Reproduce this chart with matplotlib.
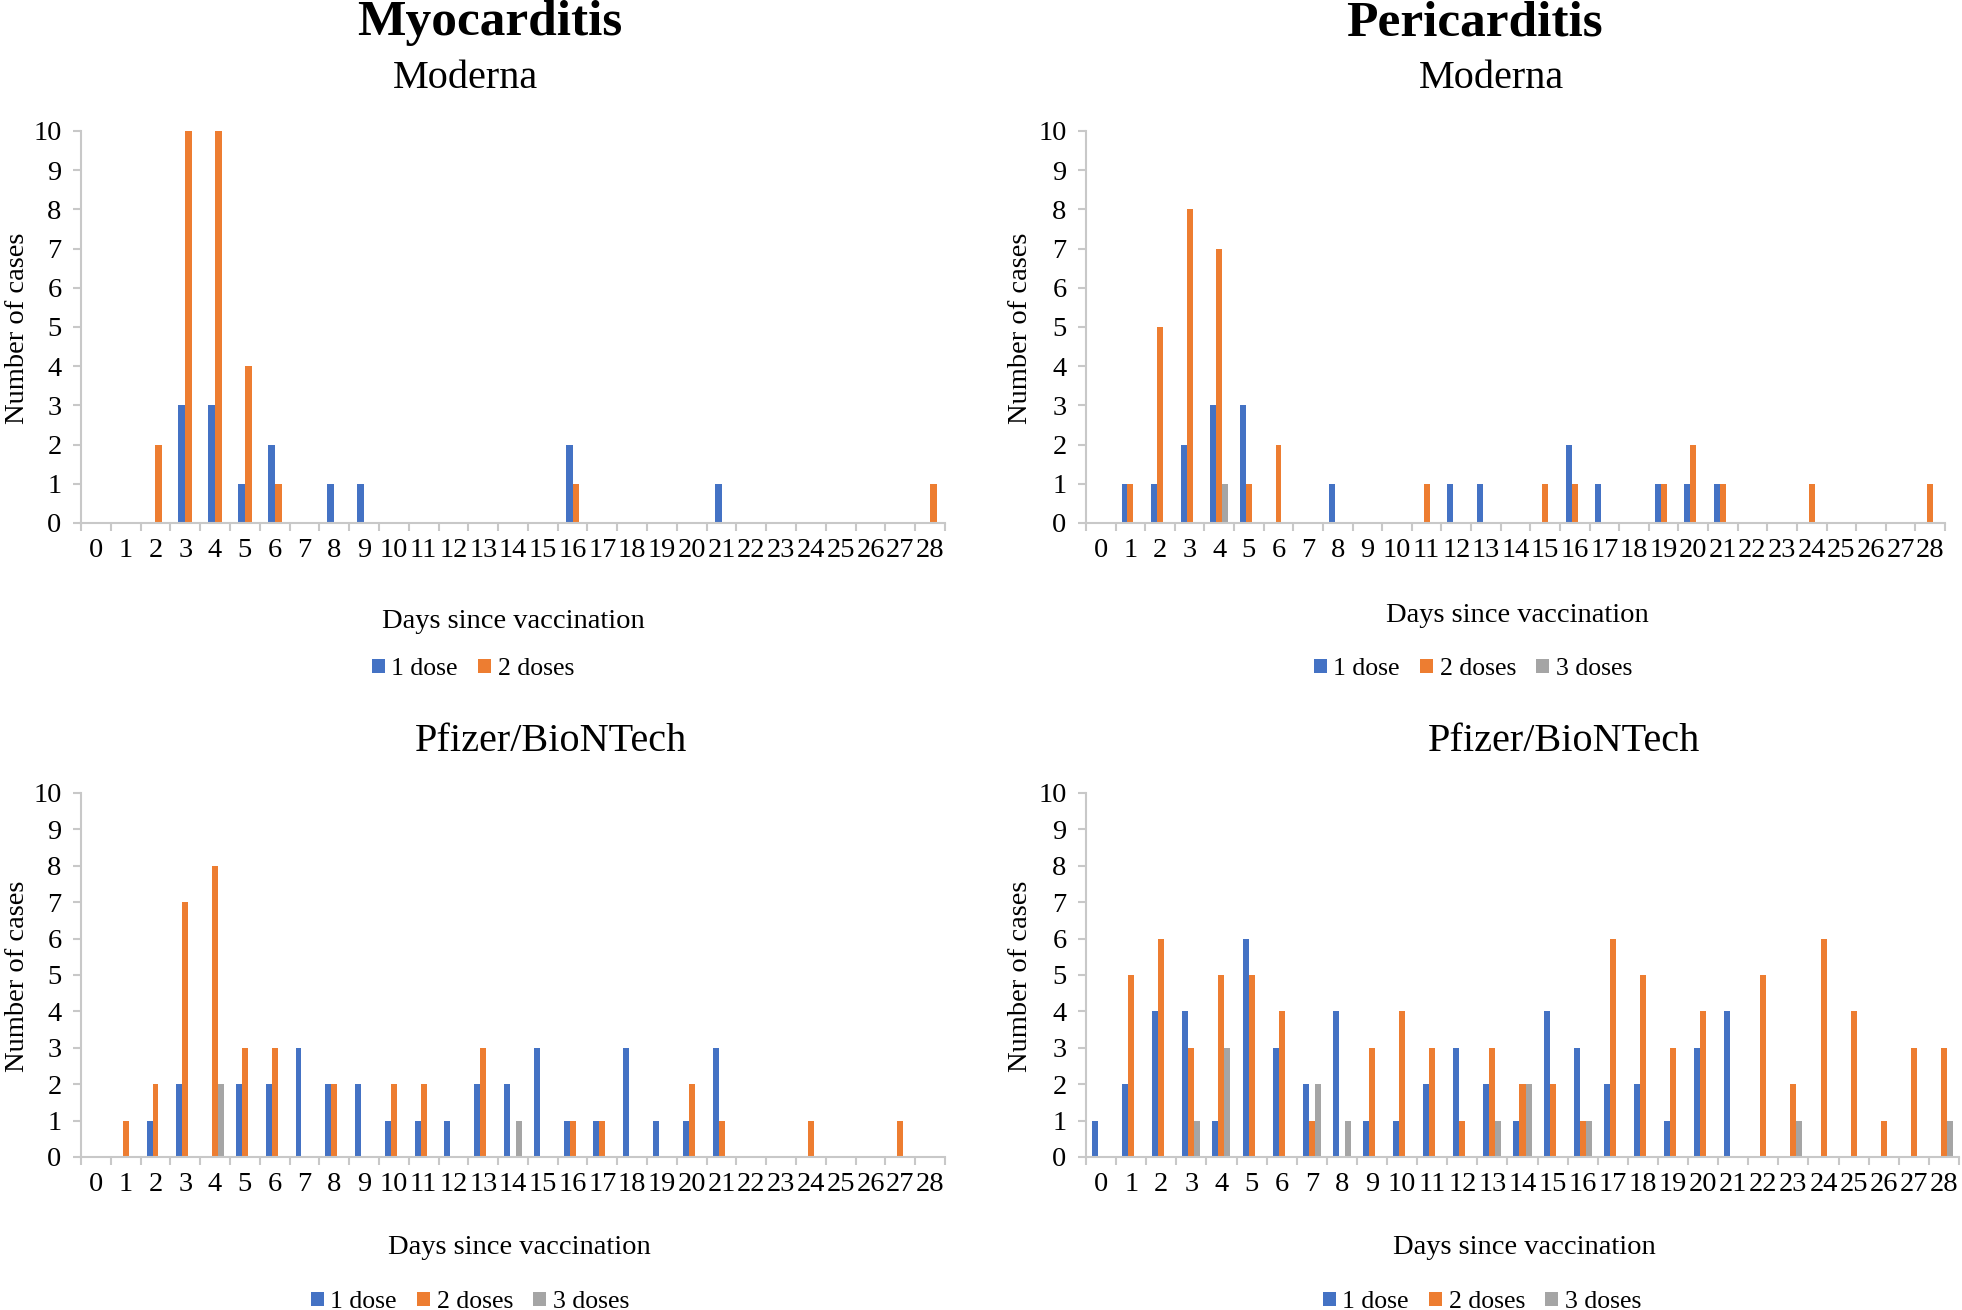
import matplotlib
matplotlib.use("Agg")
import matplotlib.pyplot as plt
import numpy as np

# ---------------- data ----------------
days = list(range(29))
dose_labels = ["1 dose", "2 doses", "3 doses"]

myo_moderna_1 = [0,0,0,3,3,1,2,0,1,1,0,0,0,0,0,0,2,0,0,0,0,1,0,0,0,0,0,0,0]
myo_moderna_2 = [0,0,2,10,10,4,1,0,0,0,0,0,0,0,0,0,1,0,0,0,0,0,0,0,0,0,0,0,1]

peri_moderna_1 = [0,1,1,2,3,3,0,0,1,0,0,0,1,1,0,0,2,1,0,1,1,1,0,0,0,0,0,0,0]
peri_moderna_2 = [0,1,5,8,7,1,2,0,0,0,0,1,0,0,0,1,1,0,0,1,2,1,0,0,1,0,0,0,1]
peri_moderna_3 = [0,0,0,0,1,0,0,0,0,0,0,0,0,0,0,0,0,0,0,0,0,0,0,0,0,0,0,0,0]

myo_pfizer_1 = [0,0,1,2,0,2,2,3,2,2,1,1,1,2,2,3,1,1,3,1,1,3,0,0,0,0,0,0,0]
myo_pfizer_2 = [0,1,2,7,8,3,3,0,2,0,2,2,0,3,0,0,1,1,0,0,2,1,0,0,1,0,0,1,0]
myo_pfizer_3 = [0,0,0,0,2,0,0,0,0,0,0,0,0,0,1,0,0,0,0,0,0,0,0,0,0,0,0,0,0]

peri_pfizer_1 = [1,2,4,4,1,6,3,2,4,1,1,2,3,2,1,4,3,2,2,1,3,4,0,0,0,0,0,0,0]
peri_pfizer_2 = [0,5,6,3,5,5,4,1,0,3,4,3,1,3,2,2,1,6,5,3,4,0,5,2,6,4,1,3,3]
peri_pfizer_3 = [0,0,0,1,3,0,0,2,1,0,0,0,0,1,2,0,1,0,0,0,0,0,0,1,0,0,0,0,1]

# ---------------- style ----------------
W, H = 1962, 1310
plt.rcParams["font.family"] = ["Liberation Serif", "DejaVu Serif"]
colors = ["#4472C4", "#ED7D31", "#A5A5A5"]
axis_gray = "#C8C8C8"

fig = plt.figure(figsize=(W / 100, H / 100), dpi=100)


def fx(px):
    return px / W


def fy(py):
    return 1 - py / H


def panel(left, right, top, bottom, series, bar_w, legend_xy):
    ax = fig.add_axes([fx(left), fy(bottom), (right - left) / W, (bottom - top) / H])
    n = len(series)
    x = np.arange(len(days))
    conts = []
    for i, vals in enumerate(series):
        off = (i - (n - 1) / 2) * bar_w
        c = ax.bar(x + off, vals, width=bar_w, color=colors[i],
                   label=dose_labels[i], linewidth=0, zorder=2)
        conts.append(c)
    ax.set_xlim(-0.5, len(days) - 0.5)
    ax.set_ylim(0, 10)
    ax.set_xticks(x)
    ax.set_xticklabels([str(d) for d in days])
    ax.set_xticks(np.arange(-0.5, len(days), 1.0), minor=True)
    ax.set_yticks(range(11))
    ax.tick_params(axis="x", which="major", length=0, pad=11, labelsize=20.5)
    ax.tick_params(axis="x", which="minor", length=6, width=1.5, color=axis_gray, direction="out")
    ax.tick_params(axis="y", which="major", length=6, width=1.5, color=axis_gray,
                   direction="out", pad=8, labelsize=20.5)
    for s in ["top", "right"]:
        ax.spines[s].set_visible(False)
    for s in ["left", "bottom"]:
        ax.spines[s].set_color(axis_gray)
        ax.spines[s].set_linewidth(1.5)
    ax.legend(handles=conts, loc="center", bbox_to_anchor=(fx(legend_xy[0]), fy(legend_xy[1])),
              bbox_transform=fig.transFigure, ncol=n, frameon=False, fontsize=18.5,
              handlelength=0.5, handleheight=0.5, handletextpad=0.25,
              columnspacing=0.8, borderpad=0, borderaxespad=0)
    return ax


panel(81, 945, 131, 523, [myo_moderna_1, myo_moderna_2], 0.23, (473, 669))
panel(1086, 1945, 131, 523, [peri_moderna_1, peri_moderna_2, peri_moderna_3], 0.2, (1473, 669))
panel(81, 945, 793, 1157, [myo_pfizer_1, myo_pfizer_2, myo_pfizer_3], 0.2, (470, 1302))
panel(1086, 1959, 793, 1157, [peri_pfizer_1, peri_pfizer_2, peri_pfizer_3], 0.2, (1482, 1302))

# ---------------- texts ----------------
fig.text(fx(490), fy(35), "Myocarditis", fontsize=37, fontweight="bold", ha="center", va="baseline")
fig.text(fx(1474), fy(35), "Pericarditis", fontsize=37, fontweight="bold", ha="center", va="baseline")
fig.text(fx(466), fy(88), "Moderna", fontsize=29, ha="center", va="baseline")
fig.text(fx(1492), fy(88), "Moderna", fontsize=29, ha="center", va="baseline")
fig.text(fx(551), fy(751), "Pfizer/BioNTech", fontsize=29, ha="center", va="baseline")
fig.text(fx(1564), fy(751), "Pfizer/BioNTech", fontsize=29, ha="center", va="baseline")

for (cx, by) in [(513, 628), (1517, 622), (519, 1254), (1524, 1254)]:
    fig.text(fx(cx), fy(by), "Days since vaccination", fontsize=20.5, ha="center", va="baseline")

for (bx, cy) in [(24, 328), (1027, 328), (24, 976), (1027, 976)]:
    fig.text(fx(bx), fy(cy), "Number of cases", fontsize=20.5, rotation=90,
             rotation_mode="anchor", ha="center", va="baseline")

fig.savefig("out.png", dpi=100)
